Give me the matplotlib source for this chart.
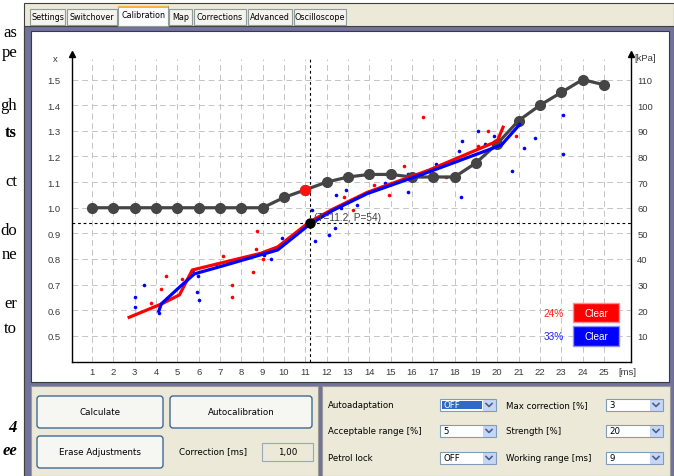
import matplotlib
matplotlib.use("Agg")
import matplotlib.pyplot as plt
from matplotlib.patches import Rectangle, FancyBboxPatch
from matplotlib.lines import Line2D

W, H = 674, 477

# ---- data ----
ms_ticks = list(range(1, 26))
x_ticks = [0.5, 0.6, 0.7, 0.8, 0.9, 1.0, 1.1, 1.2, 1.3, 1.4, 1.5]
kpa_ticks = [10, 20, 30, 40, 50, 60, 70, 80, 90, 100, 110]

map_x = [1.0, 1.0, 1.0, 1.0, 1.0, 1.0, 1.0, 1.0, 1.0, 1.04, 1.07, 1.10, 1.12,
         1.13, 1.13, 1.12, 1.12, 1.12, 1.175, 1.25, 1.34, 1.40, 1.45, 1.50, 1.48]
active_idx = 10

red_line_t = [2.67, 4.27, 5.1, 5.7, 8.9, 9.7, 11.2, 12.3, 13.9, 16.8, 20.0, 20.3]
red_line_x = [0.57, 0.625, 0.66, 0.757, 0.822, 0.847, 0.945, 0.995, 1.06, 1.147, 1.26, 1.32]
blue_line_t = [4.1, 4.25, 5.1, 5.8, 7.0, 8.9, 9.7, 11.2, 12.3, 13.9, 16.8, 20.2, 21.1]
blue_line_x = [0.59, 0.625, 0.69, 0.742, 0.77, 0.816, 0.835, 0.935, 0.99, 1.055, 1.14, 1.245, 1.33]

red_pts_t = [3.75, 4.22, 4.45, 5.23, 5.72, 7.16, 7.55, 7.55, 8.53, 8.7, 8.72, 9.03,
             10.56, 12.8, 13.22, 14.24, 14.94, 15.65, 16.5, 17.6, 19.1, 19.58, 20.88, 20.88]
red_pts_x = [0.63, 0.683, 0.732, 0.72, 0.758, 0.811, 0.70, 0.651, 0.751, 0.84, 0.91, 0.80,
             0.898, 1.04, 0.99, 1.09, 1.05, 1.163, 1.354, 1.12, 1.24, 1.30, 1.28, 1.34]
blue_pts_t = [3.02, 3.02, 3.44, 4.14, 5.67, 5.95, 5.9, 6.03, 6.8, 9.08, 9.39, 9.89,
              11.33, 11.45, 12.12, 12.39, 12.44, 12.66, 12.91, 12.94, 13.41, 14.54, 14.74,
              15.83, 15.83, 16.45, 17.12, 18.2, 18.36, 18.31, 19.11, 19.42, 19.86, 20.67,
              21.27, 21.77, 23.09, 23.09]
blue_pts_x = [0.651, 0.612, 0.70, 0.59, 0.752, 0.732, 0.673, 0.641, 0.779, 0.814, 0.80, 0.882,
              0.99, 0.872, 0.892, 0.921, 1.051, 1.0, 1.07, 1.022, 1.012, 1.08, 1.096,
              1.061, 1.13, 1.122, 1.172, 1.221, 1.26, 1.04, 1.30, 1.247, 1.28, 1.142,
              1.233, 1.272, 1.211, 1.36]

cur_t, cur_p = 11.2, 54
red_pct, blue_pct = "24%", "33%"

tabs = ["Settings", "Switchover", "Calibration", "Map", "Corrections", "Advanced", "Oscilloscope"]
tab_edges = [29, 66, 118, 168, 193, 247, 293, 347]
side_words = [("as", 33, False, False), ("pe", 53, False, False), ("gh", 106, False, False),
              ("ts", 133, True, False), ("ct", 182, False, False), ("do", 231, False, False),
              ("ne", 255, False, False), ("er", 304, False, False), ("to", 329, False, False),
              ("4", 428, True, True), ("ee", 451, True, True)]

fig = plt.figure(figsize=(W / 100, H / 100), dpi=100)
fig.patch.set_facecolor("white")
tr = fig.dpi_scale_trans
UI = "DejaVu Sans"


def X(x):
    return x / 100.0


def Y(y):
    return (H - y) / 100.0


def box(x0, y0, x1, y1, z=-5, **kw):
    fig.add_artist(Rectangle((X(x0), Y(y1)), X(x1 - x0), (y1 - y0) / 100.0,
                             transform=tr, zorder=z, **kw))


def txt(x, y, s, **kw):
    kw.setdefault("family", UI)
    kw.setdefault("fontsize", 6.2)
    kw.setdefault("va", "center")
    fig.text(X(x), Y(y), s, transform=tr, **kw)


def button(x0, y0, x1, y1, label):
    fig.add_artist(FancyBboxPatch((X(x0), Y(y1)), X(x1 - x0), (y1 - y0) / 100.0,
                                  boxstyle="round,pad=0,rounding_size=0.03",
                                  transform=tr, fc="#f6f6f2", ec="#2c5b8c", lw=0.9, zorder=-4))
    txt((x0 + x1) / 2, (y0 + y1) / 2, label, ha="center", fontsize=6.3)


def combo(x0, y0, x1, y1, value, selected=False):
    box(x0, y0, x1, y1, fc="white", ec="#7f9db9", lw=0.8, z=-4)
    if selected:
        box(x0 + 2, y0 + 2, x1 - 14, y1 - 2, fc="#316ac5", ec="none", z=-3)
    txt(x0 + 3, (y0 + y1) / 2, value, fontsize=6.2, color="white" if selected else "black")
    box(x1 - 13, y0 + 1, x1 - 1, y1 - 1, fc="#c6d6f7", ec="#b4c8f0", lw=0.5, z=-3)
    cx, cy = x1 - 7, (y0 + y1) / 2
    fig.add_artist(Line2D([X(cx - 3), X(cx), X(cx + 3)], [Y(cy - 1.5), Y(cy + 1.5), Y(cy - 1.5)],
                          transform=tr, color="#4d6185", lw=1.2))


# document text behind the window
for word, yy, bold, ital in side_words:
    txt(17, yy, word, ha="right", family="Liberation Serif", fontsize=12,
        fontweight="bold" if bold else "normal", style="italic" if ital else "normal")

# window
box(24, 4, 674, 477, fc="#ece9d8", ec="#404040", lw=0.8, z=-9)
box(24, 27, 674, 477, fc="#72729a", ec="#404040", lw=0.8, z=-8)
box(31, 32, 669, 383, fc="white", ec="#3a3a3a", lw=0.8, z=-7)
box(31, 387, 318, 477, fc="#ece9d8", ec="#9a9a9a", lw=0.8, z=-7)
box(322, 387, 670, 477, fc="#ece9d8", ec="#9a9a9a", lw=0.8, z=-7)

# tabs
for i, name in enumerate(tabs):
    x0, x1 = tab_edges[i], tab_edges[i + 1]
    if name == "Calibration":
        box(x0, 7, x1, 27, fc="#fcfcfe", ec="#919b9c", lw=0.8, z=-6)
        box(x0, 7, x1, 9, fc="#f7b33c", ec="none", z=-5)
        txt((x0 + x1) / 2, 16, name, ha="center", fontsize=5.8)
    else:
        box(x0 + 1, 10, x1 - 1, 26, fc="#f4f3ee", ec="#919b9c", lw=0.8, z=-6)
        txt((x0 + x1) / 2, 18, name, ha="center", fontsize=5.8)

# ---- chart ----
ax = fig.add_axes([72 / W, 1 - 363 / H, (631 - 72) / W, (363 - 55) / H])
ax.set_xlim(0.06, 26.27)
ax.set_ylim(0.398, 1.60)
ax.patch.set_alpha(0)
ax.spines["top"].set_visible(False)
for s in ["left", "bottom", "right"]:
    ax.spines[s].set_color("black")
    ax.spines[s].set_linewidth(1.0)

lab = dict(family="Liberation Sans", size=6.8, color="#3a3a3a")
ax.set_xticks(ms_ticks)
ax.set_xticklabels([str(v) for v in ms_ticks], **lab)
ax.set_yticks(x_ticks)
ax.set_yticklabels(["%.1f" % v for v in x_ticks], **lab)
ax.tick_params(axis="x", length=0, pad=3.5)
ax.tick_params(axis="y", length=0, pad=8)

sec = ax.secondary_yaxis("right", functions=(lambda v: 100 * v - 40, lambda p: (p + 40) / 100.0))
sec.set_yticks(kpa_ticks)
sec.set_yticklabels([str(v) for v in kpa_ticks], **lab)
sec.tick_params(length=0, pad=4.5)
sec.spines["right"].set_visible(False)

ax.plot([0, 1], [1, 1], ls="none", marker="^", ms=4, color="black",
        transform=ax.transAxes, clip_on=False)
ax.text(-0.026, 0.985, "x", transform=ax.transAxes, ha="right", va="center", **lab)
ax.text(1.006, 0.99, "[kPa]", transform=ax.transAxes, ha="left", va="center", **lab)
ax.text(0.977, -0.03, "[ms]", transform=ax.transAxes, ha="left", va="center", **lab)

# grid
grid = dict(color="#c4c4c4", lw=0.7, ls=(0, (6, 4)), zorder=0)
ax.vlines(ms_ticks, 0.398, 1.58, **grid)
ax.hlines(x_ticks, 0.06, 26.27, **grid)

# crosshair
cur_x = (cur_p + 40) / 100.0
ax.vlines(cur_t, 0.398, 1.585, color="black", lw=0.8, ls=(0, (2.5, 2.5)), zorder=1)
ax.hlines(cur_x, 0.06, 26.27, color="black", lw=0.8, ls=(0, (2.5, 2.5)), zorder=1)

# map curve
ax.plot(ms_ticks, map_x, color="#454545", lw=2.3, marker="o", ms=7, zorder=3)
ax.plot(ms_ticks[active_idx], map_x[active_idx], marker="o", ms=7, color="#ff1010",
        ls="none", zorder=4)

# measured points and fitted lines
ax.plot(red_pts_t, red_pts_x, ls="none", marker="o", ms=2.6, color="#ff0000", mew=0, zorder=2)
ax.plot(blue_pts_t, blue_pts_x, ls="none", marker="o", ms=2.6, color="#0000ff", mew=0, zorder=2)
ax.plot(red_line_t, red_line_x, color="#ff0000", lw=2.3, zorder=5, solid_capstyle="butt")
ax.plot(blue_line_t, blue_line_x, color="#0000ff", lw=2.3, zorder=6, solid_capstyle="butt")

ax.plot(cur_t, cur_x, marker="o", ms=6.5, color="black", zorder=7)
ax.text(cur_t + 0.2, cur_x + 0.025, "(T=%.1f, P=%d)" % (cur_t, cur_p), fontsize=7.2,
        family="Liberation Sans", color="#404040", va="center", zorder=8)

# clear buttons and percentages
box(573, 304, 619, 323, fc="#ff0000", ec="#ff9090", lw=1.0, z=5)
box(573, 327, 619, 347, fc="#0000ff", ec="#9090ff", lw=1.0, z=5)
txt(596, 314, "Clear", ha="center", color="white", family="Liberation Sans", fontsize=7.2, zorder=6)
txt(596, 337, "Clear", ha="center", color="white", family="Liberation Sans", fontsize=7.2, zorder=6)
txt(564, 314, red_pct, ha="right", color="#ff2020", family="Liberation Sans", fontsize=7.2)
txt(564, 337, blue_pct, ha="right", color="#2020ff", family="Liberation Sans", fontsize=7.2)

# ---- bottom controls ----
button(37, 397, 163, 429, "Calculate")
button(170, 397, 312, 429, "Autocalibration")
button(37, 437, 163, 469, "Erase Adjustments")
txt(213, 452, "Correction [ms]", ha="center", fontsize=6.3)
box(262, 444, 313, 462, fc="#ece9d8", ec="#9aa7b4", lw=0.8, z=-4)
txt(288, 453, "1,00", ha="center", fontsize=6.3)

rows = [406, 432, 459]
left_labels = ["Autoadaptation", "Acceptable range [%]", "Petrol lock"]
left_values = ["OFF", "5", "OFF"]
right_labels = ["Max correction [%]", "Strength [%]", "Working range [ms]"]
right_values = ["3", "20", "9"]
for i, yy in enumerate(rows):
    txt(328, yy, left_labels[i], fontsize=6.2)
    combo(440, yy - 6, 496, yy + 6, left_values[i], selected=(i == 0))
    txt(506, yy, right_labels[i], fontsize=6.2)
    combo(606, yy - 6, 663, yy + 6, right_values[i])

fig.savefig("out.png", dpi=100)
